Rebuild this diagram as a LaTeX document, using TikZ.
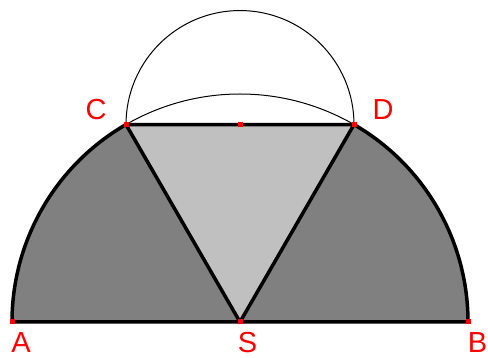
\documentclass[tikz,border=0pt]{standalone}
\usepackage{fontspec}
\setmainfont{Liberation Sans}
\usetikzlibrary{calc}
\begin{document}
\begin{tikzpicture}[x=1pt,y=1pt,
  thick line/.style={line width=3.5pt},
  thin line/.style={line width=1pt},
  pt/.style={fill=red,draw=none,minimum size=5pt,inner sep=0pt,shape=rectangle},
  lbl/.style={text=red,font=\fontsize{29}{29}\selectfont,inner sep=0pt}]
\useasboundingbox (0,0) rectangle (488,358);
\definecolor{darkg}{RGB}{128,128,128}
\definecolor{lightg}{RGB}{192,192,192}
\coordinate (S) at (240,36);
\coordinate (A) at (12,36);
\coordinate (B) at (468,36);
\coordinate (C) at ($(S)+(120:228)$);
\coordinate (D) at ($(S)+(60:228)$);
\coordinate (M) at ($(C)!0.5!(D)$);
% fills
\fill[darkg] (A) arc[start angle=180,end angle=120,radius=228] -- (S) -- cycle;
\fill[darkg] (S) -- (D) arc[start angle=60,end angle=0,radius=228] -- cycle;
\fill[lightg] (C) -- (D) -- (S) -- cycle;
% thin arcs
\draw[thin line] (D) arc[start angle=60,end angle=120,radius=228];
\draw[thin line] (D) arc[start angle=0,end angle=180,radius=114];
% thick lines
\draw[thick line,line join=round] (C) arc[start angle=120,end angle=180,radius=228] -- (B) arc[start angle=0,end angle=60,radius=228] -- (C) -- (S) -- (D);
% points
\node[pt] (pA) at (A) {};
\node[pt] (pB) at (B) {};
\node[pt] (pS) at (S) {};
\node[pt] (pC) at (C) {};
\node[pt] (pD) at (D) {};
\node[pt] (pM) at (M) {};
% labels
\node[lbl] (lA) at (21,15) {A};
\node[lbl] (lS) at (247.5,15) {S};
\node[lbl] (lB) at (477.5,15) {B};
\node[lbl] (lC) at (96,248.5) {C};
\node[lbl] (lD) at (383,248.5) {D};
\end{tikzpicture}
\end{document}
